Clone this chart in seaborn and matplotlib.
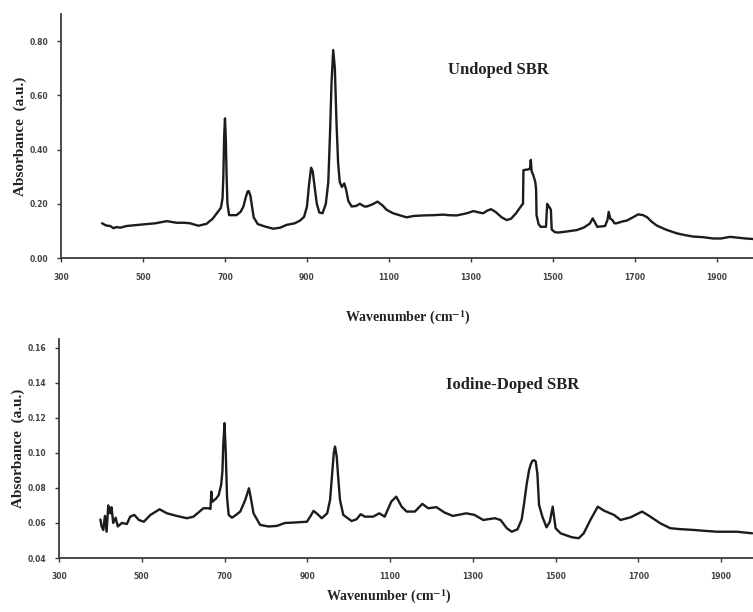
import matplotlib
matplotlib.use("Agg")
import matplotlib.pyplot as plt
import seaborn as sns
import pandas as pd

# ---------------- data ----------------
undoped_wn = [400, 410, 420, 428, 435, 445, 460, 480, 501, 530, 558, 570, 582, 600, 615, 635, 655,
              670, 680, 690, 694, 696, 698, 700, 702, 704, 706, 710, 728, 738, 745, 750, 755, 758,
              762, 766, 770, 780, 800, 818, 835, 850, 870, 883, 893, 900, 905, 910, 914, 918, 924,
              930, 938, 946, 952, 956, 960, 964, 968, 972, 976, 980, 985, 991, 995, 1001, 1009,
              1020, 1029, 1040, 1046, 1060, 1072, 1085, 1094, 1110, 1125, 1143, 1160, 1184, 1210,
              1232, 1245, 1265, 1290, 1306, 1320, 1330, 1340, 1349, 1360, 1375, 1387, 1398, 1410,
              1424, 1427, 1428, 1440, 1444, 1446, 1448, 1452, 1457, 1459, 1460, 1465, 1470, 1483,
              1486, 1490, 1495, 1497, 1505, 1513, 1530, 1558, 1575, 1590, 1597, 1603, 1608, 1627,
              1633, 1636, 1640, 1645, 1650, 1655, 1670, 1680, 1695, 1708, 1720, 1730, 1740, 1753,
              1775, 1802, 1820, 1842, 1865, 1891, 1910, 1932, 1950, 1970, 1988]
undoped_abs = [0.128, 0.120, 0.118, 0.110, 0.114, 0.112, 0.118, 0.121, 0.124, 0.128, 0.136, 0.133,
               0.130, 0.130, 0.128, 0.119, 0.126, 0.145, 0.165, 0.185, 0.220, 0.300, 0.450, 0.515,
               0.440, 0.300, 0.200, 0.158, 0.158, 0.170, 0.190, 0.220, 0.245, 0.247, 0.230, 0.190,
               0.150, 0.125, 0.115, 0.108, 0.112, 0.122, 0.128, 0.138, 0.152, 0.190, 0.270, 0.333,
               0.320, 0.270, 0.200, 0.168, 0.165, 0.200, 0.280, 0.450, 0.650, 0.767, 0.700, 0.500,
               0.350, 0.280, 0.262, 0.275, 0.255, 0.210, 0.190, 0.192, 0.200, 0.190, 0.190, 0.198,
               0.208, 0.193, 0.178, 0.165, 0.158, 0.150, 0.155, 0.157, 0.158, 0.160, 0.158, 0.157,
               0.165, 0.173, 0.168, 0.165, 0.175, 0.180, 0.170, 0.150, 0.140, 0.145, 0.165, 0.195,
               0.200, 0.324, 0.327, 0.330, 0.362, 0.320, 0.306, 0.280, 0.250, 0.158, 0.125, 0.115,
               0.115, 0.200, 0.190, 0.178, 0.105, 0.095, 0.094, 0.097, 0.103, 0.112, 0.127, 0.146,
               0.130, 0.115, 0.118, 0.140, 0.170, 0.145, 0.140, 0.128, 0.128, 0.135, 0.138, 0.150,
               0.161, 0.158, 0.150, 0.135, 0.120, 0.105, 0.091, 0.085, 0.079, 0.077, 0.072, 0.072,
               0.078, 0.075, 0.072, 0.070]

doped_wn = [400, 403, 407, 411, 415, 419, 422, 424, 427, 431, 437, 442, 452, 464, 472, 482, 493,
            505, 521, 543, 561, 585, 609, 625, 649, 661, 666, 668, 670, 680, 686, 692, 695, 697,
            700, 703, 706, 710, 718, 730, 738, 750, 759, 763, 770, 786, 806, 826, 846, 866, 885,
            899, 908, 915, 925, 935, 948, 955, 960, 964, 967, 971, 975, 979, 987, 1007, 1019,
            1029, 1039, 1059, 1074, 1087, 1103, 1115, 1128, 1140, 1160, 1178, 1192, 1212, 1232,
            1252, 1284, 1304, 1325, 1353, 1367, 1382, 1394, 1408, 1418, 1424, 1430, 1436, 1440,
            1444, 1448, 1452, 1456, 1460, 1468, 1478, 1486, 1493, 1500, 1512, 1525, 1540, 1556,
            1568, 1584, 1602, 1617, 1641, 1657, 1681, 1709, 1729, 1753, 1777, 1800, 1834, 1860,
            1890, 1938, 1975]
doped_abs = [0.062, 0.058, 0.056, 0.064, 0.055, 0.070, 0.066, 0.0655, 0.069, 0.060, 0.063, 0.058,
             0.060, 0.0594, 0.0636, 0.0646, 0.0617, 0.0607, 0.0646, 0.0678, 0.0655, 0.064, 0.0627,
             0.0636, 0.0684, 0.0684, 0.068, 0.0779, 0.072, 0.074, 0.076, 0.082, 0.090, 0.105,
             0.117, 0.100, 0.075, 0.0646, 0.063, 0.065, 0.0665, 0.0731, 0.0798, 0.075, 0.0655,
             0.0589, 0.058, 0.0583, 0.060, 0.0602, 0.0605, 0.0607, 0.064, 0.0669, 0.065, 0.0627,
             0.0655, 0.0731, 0.088, 0.100, 0.1036, 0.098, 0.085, 0.0731, 0.0646, 0.0611, 0.0621,
             0.065, 0.0636, 0.0636, 0.0655, 0.0636, 0.0722, 0.075, 0.0693, 0.0665, 0.0665, 0.0709,
             0.0684, 0.069, 0.0659, 0.064, 0.0655, 0.0646, 0.0617, 0.0627, 0.0617, 0.057, 0.055,
             0.0564, 0.062, 0.0713, 0.082, 0.0903, 0.0935, 0.0955, 0.0958, 0.095, 0.088, 0.0703,
             0.0636, 0.0575, 0.0607, 0.0693, 0.057, 0.0541, 0.053, 0.0518, 0.0513, 0.0541, 0.0617,
             0.0693, 0.067, 0.0646, 0.0617, 0.0632, 0.0665, 0.0636, 0.0598, 0.057, 0.0565, 0.056,
             0.0555, 0.055, 0.055, 0.0541]

x_ticks = [300, 500, 700, 900, 1100, 1300, 1500, 1700, 1900]
top_yticks = [0.00, 0.20, 0.40, 0.60, 0.80]
bot_yticks = [0.04, 0.06, 0.08, 0.10, 0.12, 0.14, 0.16]
titles = ["Undoped SBR", "Iodine-Doped SBR"]
ylabel = "Absorbance  (a.u.)"
xlabel = r"Wavenumber (cm$^{\mathbf{-1}}$)"

# ---------------- style ----------------
sns.set_style("white")
plt.rcParams["font.family"] = ["Liberation Serif", "DejaVu Serif"]
plt.rcParams["mathtext.fontset"] = "stix"

fig = plt.figure(figsize=(7.53, 6.12), dpi=100)
ax1 = fig.add_axes([61 / 753, 1 - 258 / 612, 1 - 61 / 753, (258 - 14) / 612])
ax2 = fig.add_axes([59 / 753, 1 - 558 / 612, 1 - 59 / 753, (558 - 339) / 612])

df1 = pd.DataFrame({"wn": undoped_wn, "abs": undoped_abs})
df2 = pd.DataFrame({"wn": doped_wn, "abs": doped_abs})
line_color = "#1c1c1c"
sns.lineplot(data=df1, x="wn", y="abs", ax=ax1, color=line_color, lw=1.7, estimator=None, sort=False)
sns.lineplot(data=df2, x="wn", y="abs", ax=ax2, color=line_color, lw=1.7, estimator=None, sort=False)

setups = [
    (ax1, (300, 1988), (0, 0.9), top_yticks, titles[0], (0.632, 0.77), 8),
    (ax2, (300, 1977), (0.04, 0.165), bot_yticks, titles[1], (0.654, 0.79), 7),
]
for ax, xl, yl, yt, title, tpos, xpad in setups:
    ax.set_xlim(*xl)
    ax.set_ylim(*yl)
    ax.set_xticks(x_ticks)
    ax.set_xticklabels([str(t) for t in x_ticks])
    ax.set_yticks(yt)
    ax.set_yticklabels(["{:.2f}".format(t) for t in yt])
    for s in ["top", "right"]:
        ax.spines[s].set_visible(False)
    for s in ["left", "bottom"]:
        ax.spines[s].set_color("#3a3a3a")
        ax.spines[s].set_linewidth(1.3)
    ax.tick_params(axis="both", direction="out", length=3, width=1, color="#3a3a3a",
                   labelsize=5.5, labelcolor="#444444", pad=6, bottom=True, left=True)
    ax.tick_params(axis="x", pad=xpad)
    for lab in ax.get_xticklabels() + ax.get_yticklabels():
        lab.set_fontfamily(["DejaVu Sans"])
        lab.set_fontweight("bold")
    ax.set_xlabel("")
    ax.set_ylabel(ylabel, fontsize=11, fontweight="bold", color="#222222", labelpad=2)
    ax.text(tpos[0], tpos[1], title, transform=ax.transAxes, ha="center", va="center",
            fontsize=12, fontweight="bold", color="#222222")
    ax.patch.set_alpha(0)

fig.text(408 / 753, 1 - 318 / 612, xlabel, ha="center", va="center", fontsize=10,
         fontweight="bold", color="#222222")
fig.text(389 / 753, 1 - 597 / 612, xlabel, ha="center", va="center", fontsize=10,
         fontweight="bold", color="#222222")

fig.savefig("out.png", dpi=100)
